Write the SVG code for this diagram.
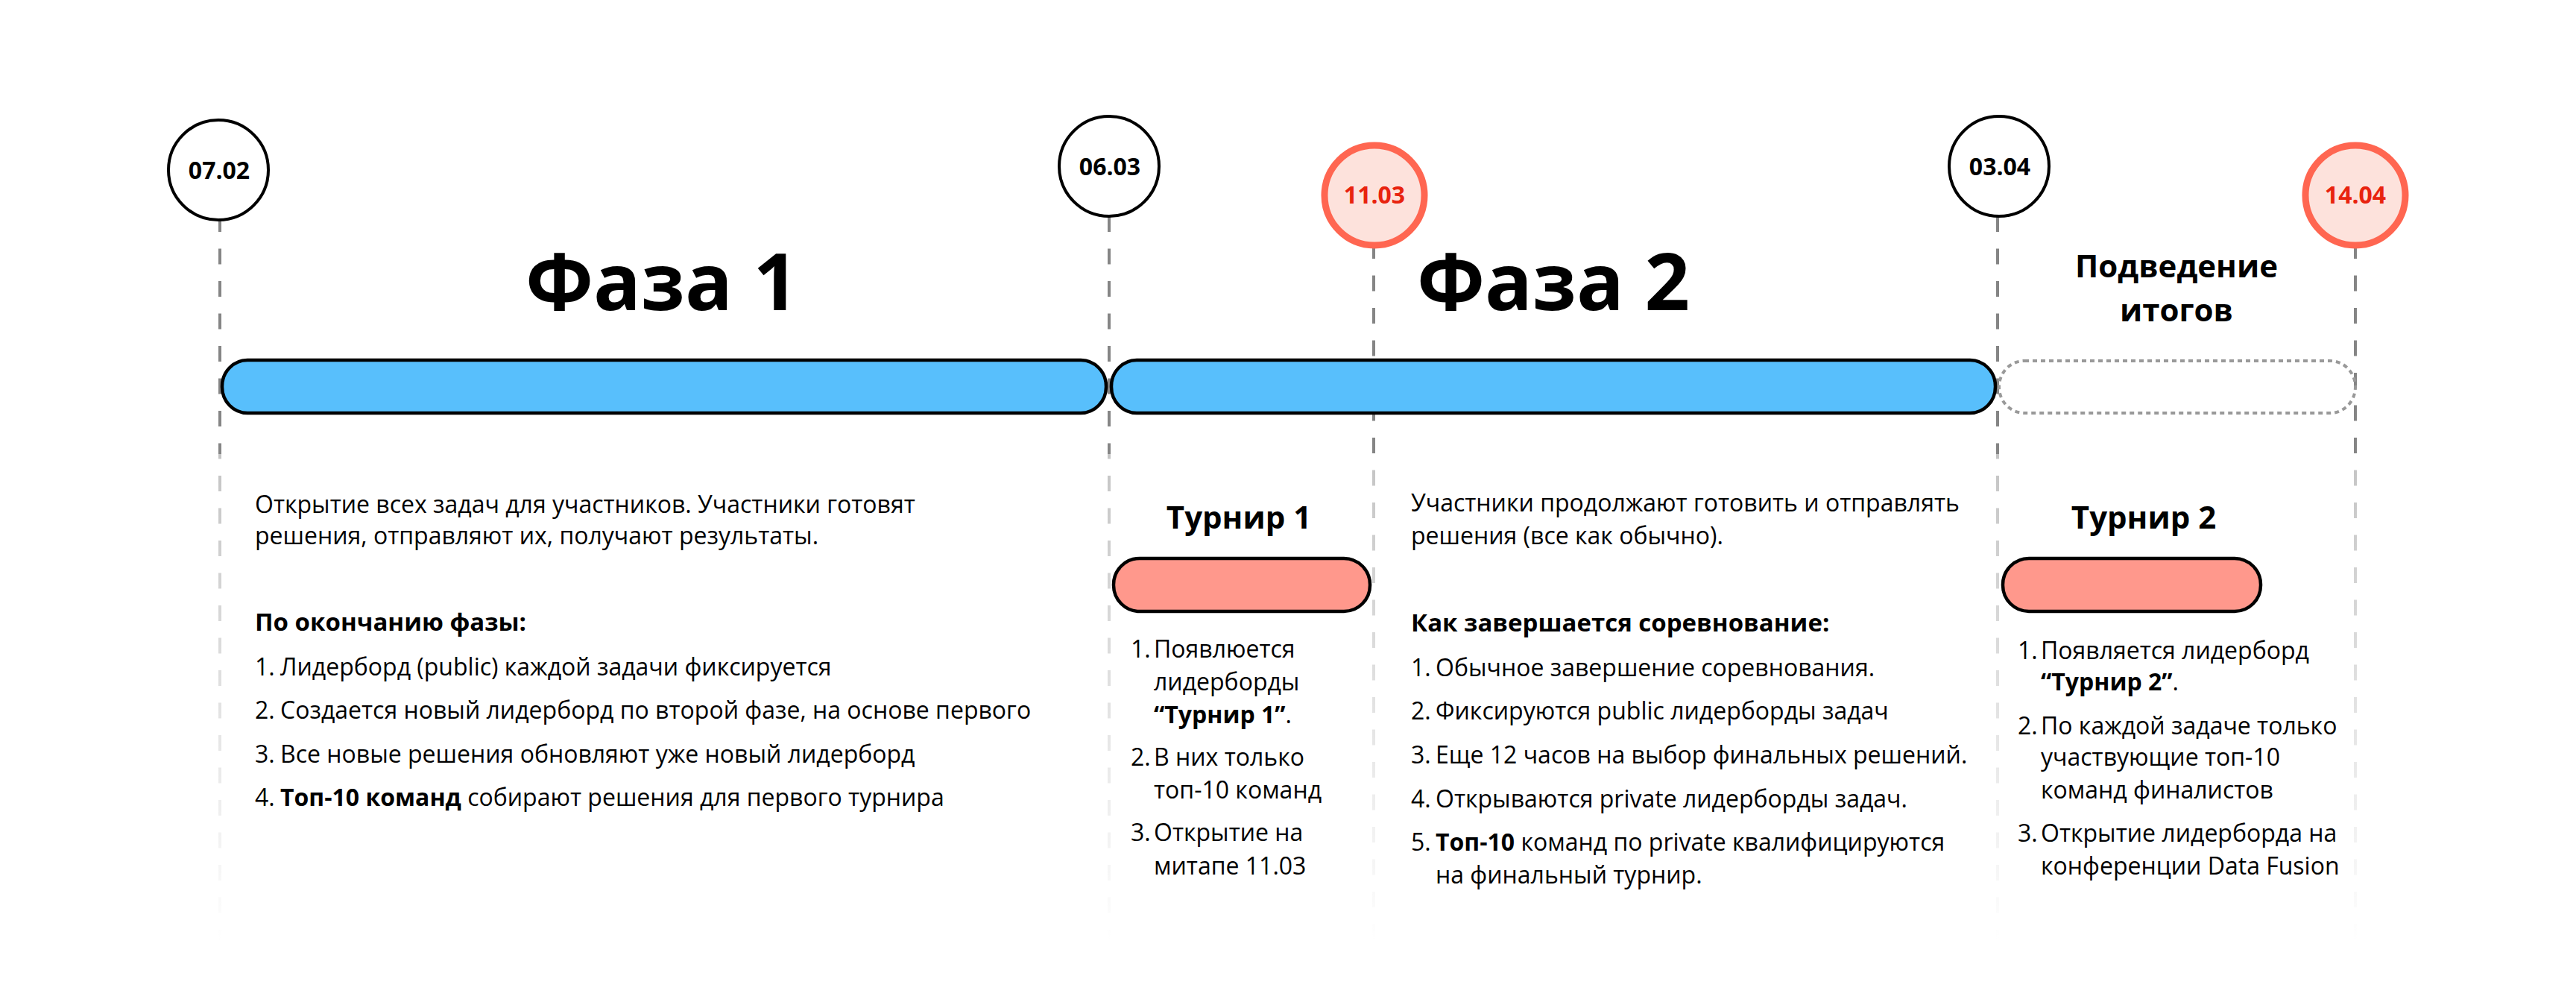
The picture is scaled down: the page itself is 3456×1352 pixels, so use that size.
<svg xmlns="http://www.w3.org/2000/svg" width="3456" height="1352" viewBox="0 0 3456 1352">
<defs>
<linearGradient id="fade" gradientUnits="userSpaceOnUse" x1="0" y1="609" x2="0" y2="1262">
<stop offset="0" stop-color="#c4c4c4"/>
<stop offset="1" stop-color="#ffffff"/>
</linearGradient>
<style>
.bg{fill:#ffffff}
.dTop{stroke:#858585;stroke-width:4;stroke-dasharray:21 22.5;fill:none}
.dBot{stroke:url(#fade);stroke-width:4;stroke-dasharray:21 22.5;fill:none}
.bar{fill:#58bffc;stroke:#000;stroke-width:4.5}
.dots{fill:none;stroke:#999;stroke-width:4;stroke-dasharray:6 5}
.pill{fill:#ff988c;stroke:#000;stroke-width:4.5}
.cBlack{fill:#fff;stroke:#000;stroke-width:4}
.cRed{fill:#fde2dc;stroke:#ff6651;stroke-width:9}
.date{font-family:"Open Sans","Noto Sans","DejaVu Sans",sans-serif;font-weight:700;font-size:32px;text-anchor:middle;fill:#000}
.dateRed{fill:#e8230f}
.title{font-family:"Open Sans","Noto Sans","DejaVu Sans",sans-serif;font-weight:700;font-size:106px;text-anchor:middle;fill:#000}
.sub{font-family:"Open Sans","Noto Sans","DejaVu Sans",sans-serif;font-weight:700;font-size:42px;text-anchor:middle;fill:#000}
.t{font-family:"Open Sans","Noto Sans","DejaVu Sans",sans-serif;font-size:32px;fill:#000}
.b{font-weight:700}
.h{font-weight:700;font-size:33px}
</style>
</defs>
<rect class="bg" x="0" y="0" width="3456" height="1352"/>

<g id="connectors">
<line class="dTop" x1="295" y1="290" x2="295" y2="609"/>
<line class="dBot" x1="295" y1="609" x2="295" y2="1262" stroke-dashoffset="14.5"/>
<line class="dTop" x1="1488" y1="290" x2="1488" y2="609"/>
<line class="dBot" x1="1488" y1="609" x2="1488" y2="1262" stroke-dashoffset="14.5"/>
<line class="dTop" x1="1843" y1="326" x2="1843" y2="609"/>
<line class="dBot" x1="1843" y1="609" x2="1843" y2="1262" stroke-dashoffset="22"/>
<line class="dTop" x1="2680" y1="290" x2="2680" y2="609"/>
<line class="dBot" x1="2680" y1="609" x2="2680" y2="1262" stroke-dashoffset="14.5"/>
<line class="dTop" x1="3160" y1="326" x2="3160" y2="609"/>
<line class="dBot" x1="3160" y1="609" x2="3160" y2="1262" stroke-dashoffset="22"/>
</g>

<g id="bar-phase1"><rect class="bar" x="298" y="483" width="1186" height="71" rx="34" ry="35"/></g>
<g id="bar-phase2"><rect class="bar" x="1491" y="483" width="1186" height="71" rx="34" ry="35"/></g>
<g id="bar-results"><rect class="dots" x="2682" y="484" width="478" height="70" rx="34" ry="35"/></g>

<g id="date-0702"><circle class="cBlack" cx="293" cy="228" r="67"/><text class="date" x="294" y="240">07.02</text></g>
<g id="date-0603"><circle class="cBlack" cx="1488" cy="223" r="67"/><text class="date" x="1489" y="235">06.03</text></g>
<g id="date-1103"><circle class="cRed" cx="1844" cy="262" r="67"/><text class="date dateRed" x="1844" y="273">11.03</text></g>
<g id="date-0304"><circle class="cBlack" cx="2682" cy="223" r="67"/><text class="date" x="2683" y="235">03.04</text></g>
<g id="date-1404"><circle class="cRed" cx="3160" cy="262" r="67"/><text class="date dateRed" x="3160" y="273">14.04</text></g>

<g id="title-phase1"><text class="title" x="888" y="416">Фаза 1</text></g>
<g id="title-phase2"><text class="title" x="2084" y="416">Фаза 2</text></g>
<g id="title-results"><text class="sub" x="2920" y="372">Подведение</text><text class="sub" x="2920" y="431">итогов</text></g>

<g id="phase1-text" class="t">
<text x="342" y="688">Открытие всех задач для участников. Участники готовят</text>
<text x="342" y="730">решения, отправляют их, получают результаты.</text>
<text x="342" y="846" class="h">По окончанию фазы:</text>
<text x="342" y="906">1.</text><text x="376" y="906">Лидерборд (public) каждой задачи фиксируется</text>
<text x="342" y="964">2.</text><text x="376" y="964">Создается новый лидерборд по второй фазе, на основе первого</text>
<text x="342" y="1023">3.</text><text x="376" y="1023">Все новые решения обновляют уже новый лидерборд</text>
<text x="342" y="1081">4.</text><text x="376" y="1081"><tspan class="b">Топ-10 команд</tspan> собирают решения для первого турнира</text>
</g>

<g id="tournament1">
<text class="sub" x="1662" y="709">Турнир 1</text>
<rect class="pill" x="1494" y="749" width="344" height="71" rx="35"/>
<g class="t">
<text x="1517" y="882">1.</text><text x="1548" y="882">Появлюется</text>
<text x="1548" y="926">лидерборды</text>
<text x="1548" y="970"><tspan class="b">“Турнир 1”</tspan>.</text>
<text x="1517" y="1027">2.</text><text x="1548" y="1027">В них только</text>
<text x="1548" y="1071">топ-10 команд</text>
<text x="1517" y="1128">3.</text><text x="1548" y="1128">Открытие на</text>
<text x="1548" y="1173">митапе 11.03</text>
</g>
</g>

<g id="phase2-text" class="t">
<text x="1893" y="686">Участники продолжают готовить и отправлять</text>
<text x="1893" y="730">решения (все как обычно).</text>
<text x="1893" y="847" class="h">Как завершается соревнование:</text>
<text x="1893" y="907">1.</text><text x="1926" y="907">Обычное завершение соревнования.</text>
<text x="1893" y="965">2.</text><text x="1926" y="965">Фиксируются public лидерборды задач</text>
<text x="1893" y="1024">3.</text><text x="1926" y="1024">Еще 12 часов на выбор финальных решений.</text>
<text x="1893" y="1083">4.</text><text x="1926" y="1083">Открываются private лидерборды задач.</text>
<text x="1893" y="1141">5.</text><text x="1926" y="1141"><tspan class="b">Топ-10</tspan> команд по private квалифицируются</text>
<text x="1926" y="1185">на финальный турнир.</text>
</g>

<g id="tournament2">
<text class="sub" x="2876" y="709">Турнир 2</text>
<rect class="pill" x="2687" y="749" width="346" height="71" rx="35"/>
<g class="t">
<text x="2707" y="884">1.</text><text x="2738" y="884">Появляется лидерборд</text>
<text x="2738" y="926"><tspan class="b">“Турнир 2”</tspan>.</text>
<text x="2707" y="985">2.</text><text x="2738" y="985">По каждой задаче только</text>
<text x="2738" y="1027">участвующие топ-10</text>
<text x="2738" y="1071">команд финалистов</text>
<text x="2707" y="1129">3.</text><text x="2738" y="1129">Открытие лидерборда на</text>
<text x="2738" y="1173">конференции Data Fusion</text>
</g>
</g>
</svg>
